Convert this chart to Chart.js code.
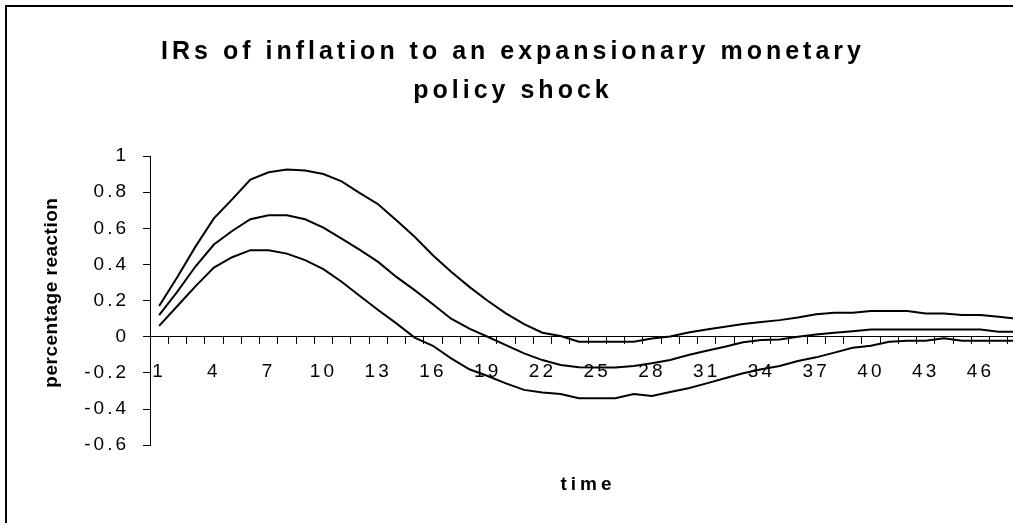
<!DOCTYPE html>
<html>
<head>
<meta charset="utf-8">
<script src="https://cdn.jsdelivr.net/npm/chart.js@4/dist/chart.umd.min.js"></script>
<style>
  html, body { margin: 0; padding: 0; background: #fff; overflow: hidden; width: 1013px; height: 523px; }
  #frame { position: absolute; left: 5px; top: 5px; width: 1100px; height: 600px; border: 2px solid #000; }
  #chart { position: absolute; left: 0; top: 0; }
</style>
</head>
<body>
<div id="frame"></div>
<canvas id="chart" width="1040" height="540"></canvas>
<script>
const periods = [1, 2, 3, 4, 5, 6, 7, 8, 9, 10, 11, 12, 13, 14, 15, 16, 17, 18, 19, 20, 21, 22, 23, 24,
    25, 26, 27, 28, 29, 30, 31, 32, 33, 34, 35, 36, 37, 38, 39, 40, 41, 42, 43, 44, 45, 46, 47, 48]
const shownPeriods = [1, 4, 7, 10, 13, 16, 19, 22, 25, 28, 31, 34, 37, 40, 43, 46]

const upperBand = [0.17, 0.33, 0.50, 0.655, 0.76, 0.87, 0.91, 0.925, 0.92, 0.90, 0.86, 0.795, 0.733, 0.645, 0.553, 0.451,
    0.359, 0.276, 0.199, 0.129, 0.07, 0.022, 0.004, -0.028, -0.028, -0.028, -0.028, -0.01, 0.002, 0.024, 0.04, 0.055,
    0.07, 0.081, 0.092, 0.107, 0.125, 0.133, 0.133, 0.142, 0.142, 0.142, 0.129, 0.129, 0.12, 0.12, 0.11, 0.10]
const response = [0.12, 0.25, 0.39, 0.51, 0.585, 0.65, 0.672, 0.672, 0.65, 0.604, 0.543, 0.481, 0.414, 0.331, 0.258, 0.18,
    0.10, 0.045, 0.0, -0.046, -0.092, -0.129, -0.156, -0.169, -0.17, -0.17, -0.162, -0.147, -0.129, -0.101, -0.077, -0.055,
    -0.031, -0.018, -0.015, 0.0, 0.013, 0.022, 0.031, 0.04, 0.04, 0.04, 0.04, 0.04, 0.04, 0.04, 0.028, 0.028]
const lowerBand = [0.06, 0.17, 0.28, 0.383, 0.44, 0.479, 0.479, 0.46, 0.424, 0.374, 0.304, 0.225, 0.148, 0.074, -0.005, -0.05,
    -0.12, -0.18, -0.217, -0.258, -0.294, -0.309, -0.317, -0.34, -0.34, -0.34, -0.317, -0.328, -0.306, -0.285, -0.258, -0.23,
    -0.202, -0.18, -0.162, -0.134, -0.114, -0.088, -0.061, -0.05, -0.028, -0.022, -0.022, -0.009, -0.022, -0.022, -0.022, -0.022]

const fontFamily = "'Liberation Sans', Arial, sans-serif"
Chart.defaults.color = '#000'
Chart.defaults.font.family = fontFamily

function line(data) {
    return { data: data, borderColor: '#000', borderWidth: 2, pointRadius: 0, tension: 0, fill: false }
}

const chart = new Chart(document.getElementById('chart'), {
    type: 'line',
    data: {
        labels: periods,
        datasets: [line(upperBand), line(response), line(lowerBand)]
    },
    options: {
        responsive: false,
        animation: false,
        layout: { padding: { left: 0, top: 0, right: 14, bottom: 44 } },
        plugins: {
            legend: { display: false },
            tooltip: { enabled: false },
            title: {
                display: true,
                text: ['IRs of inflation to an expansionary monetary', 'policy shock'],
                font: { size: 25, weight: 'bold', lineHeight: 1.56 },
                color: '#000',
                padding: { top: 33, bottom: 45 }
            }
        },
        scales: {
            x: {
                type: 'category',
                position: { y: 0 },
                offset: true,
                grid: { display: true, drawOnChartArea: false, offset: true, tickLength: 7, color: '#000' },
                border: { display: true, color: '#000', width: 1 },
                ticks: {
                    autoSkip: false,
                    maxRotation: 0,
                    padding: 17,
                    font: { size: 19 },
                    callback: function (value) {
                        const p = this.getLabelForValue(value)
                        return shownPeriods.includes(p) ? String(p) : ''
                    }
                }
            },
            x2: {
                type: 'category',
                position: 'bottom',
                labels: periods,
                grid: { display: false },
                border: { display: false },
                ticks: { display: false },
                title: { display: true, text: 'time', font: { size: 19, weight: 'bold' }, padding: { top: 20, bottom: 0 } }
            },
            y: {
                min: -0.6,
                max: 1,
                afterFit: (scale) => { scale.width = 150 },
                grid: { display: true, drawOnChartArea: false, tickLength: 7, color: '#000' },
                border: { display: true, color: '#000', width: 1 },
                ticks: {
                    stepSize: 0.2,
                    padding: 14,
                    font: { size: 19 },
                    callback: (value) => String(Number(value.toFixed(1)))
                },
                title: { display: true, text: 'percentage reaction', font: { size: 19, weight: 'bold' }, padding: { top: 40, bottom: 0 } }
            }
        }
    }
})

// the reference text is set wide, so add letter spacing to each text layer
function spaced(obj, method, spacing, shiftY) {
    const orig = obj[method]
    obj[method] = function (...args) {
        const ctx = this.ctx
        ctx.save()
        ctx.letterSpacing = spacing
        if (shiftY) ctx.translate(0, shiftY)
        orig.apply(this, args)
        ctx.restore()
    }
}
spaced(chart.titleBlock, 'draw', '4px')
spaced(chart.scales.x, 'drawLabels', '3px')
spaced(chart.scales.y, 'drawLabels', '3px')
spaced(chart.scales.y, 'drawTitle', '0.5px', -8)
spaced(chart.scales.x2, 'drawTitle', '4px')
chart.draw()
</script>
</body>
</html>
